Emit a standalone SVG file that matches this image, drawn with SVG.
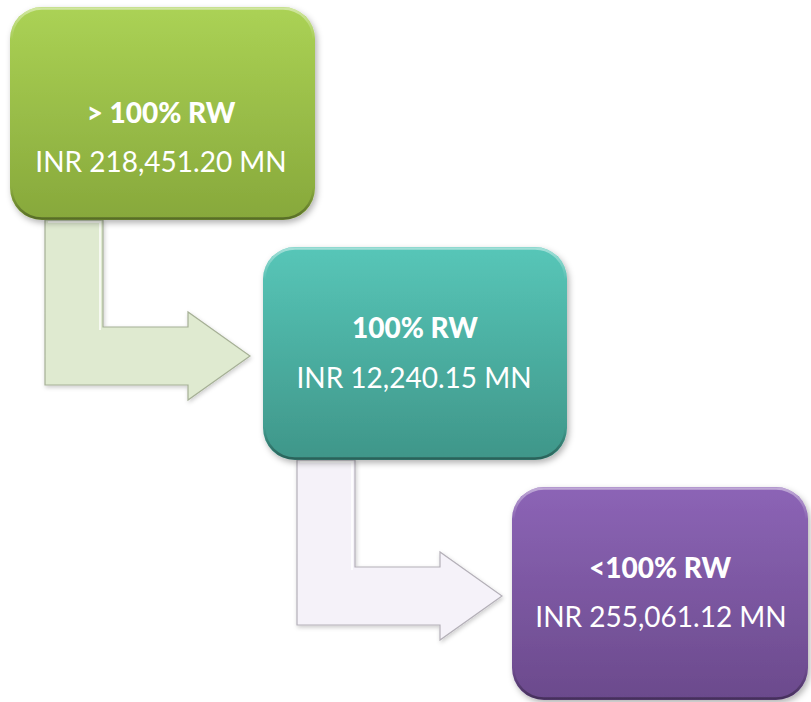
<svg xmlns="http://www.w3.org/2000/svg" width="811" height="702" viewBox="0 0 811 702">
<defs>
<linearGradient id="gGreen" x1="0" y1="0" x2="0" y2="1">
<stop offset="0" stop-color="#abd255"/>
<stop offset="1" stop-color="#87a83b"/>
</linearGradient>
<linearGradient id="gTeal" x1="0" y1="0" x2="0" y2="1">
<stop offset="0" stop-color="#57c6b8"/>
<stop offset="1" stop-color="#3f9689"/>
</linearGradient>
<linearGradient id="gPurple" x1="0" y1="0" x2="0" y2="1">
<stop offset="0" stop-color="#8c64b6"/>
<stop offset="1" stop-color="#6b4a8c"/>
</linearGradient>
<linearGradient id="gRim" x1="0" y1="0" x2="0" y2="1">
<stop offset="0" stop-color="#fff" stop-opacity="0.45"/>
<stop offset="0.15" stop-color="#fff" stop-opacity="0"/>
<stop offset="0.85" stop-color="#000" stop-opacity="0"/>
<stop offset="1" stop-color="#000" stop-opacity="0.35"/>
</linearGradient>
<filter id="shadow" x="-10%" y="-10%" width="120%" height="125%">
<feDropShadow dx="2" dy="3" stdDeviation="3" flood-color="#000" flood-opacity="0.3"/>
</filter>
<filter id="ashadow" x="-10%" y="-10%" width="120%" height="125%">
<feDropShadow dx="1" dy="2" stdDeviation="2" flood-color="#000" flood-opacity="0.2"/>
</filter>
</defs>
<style>
.t1{font-family:Lato,"Liberation Sans",sans-serif;font-weight:900;font-size:28px;fill:#fff;text-anchor:middle}
.t2{font-family:Lato,"Liberation Sans",sans-serif;font-size:28px;fill:#fff;text-anchor:middle}
.hl{fill:none;stroke:url(#gRim);stroke-width:2.5}
.arrow{stroke-width:1.2;stroke-linejoin:miter}
</style>
<g id="connectors">
<path id="arrow1" class="arrow" filter="url(#ashadow)" d="M45,220 L103,220 L103,327 L188,327 L188,312 L250,356 L188,400 L188,385 L45,385 Z" fill="#dfead0" stroke="#a6b096"/>
<path d="M48,222 L100,222 L100,330" fill="none" stroke="#fff" stroke-width="2" stroke-opacity="0.7"/>
<path id="arrow2" class="arrow" filter="url(#ashadow)" d="M297,460 L355,460 L355,567 L440,567 L440,552 L502,596 L440,640 L440,625 L297,625 Z" fill="#f5f2f9" stroke="#b4b0b8"/>
<path d="M300,462 L352,462 L352,570" fill="none" stroke="#fff" stroke-width="2" stroke-opacity="0.8"/>
</g>
<g id="node1">
<rect x="10" y="7" width="305" height="213" rx="32" fill="url(#gGreen)" filter="url(#shadow)"/>
<rect x="11.5" y="8.5" width="302" height="210" rx="30.5" class="hl"/>
<text class="t1" x="161" y="123">&gt; 100% RW</text>
<text class="t2" x="161" y="172">INR 218,451.20 MN</text>
</g>
<g id="node2">
<rect x="263" y="247" width="304" height="213" rx="32" fill="url(#gTeal)" filter="url(#shadow)"/>
<rect x="264.5" y="248.5" width="301" height="210" rx="30.5" class="hl"/>
<text class="t1" x="415" y="338">100% RW</text>
<text class="t2" x="414" y="388">INR 12,240.15 MN</text>
</g>
<g id="node3">
<rect x="512" y="487" width="296" height="213" rx="32" fill="url(#gPurple)" filter="url(#shadow)"/>
<rect x="513.5" y="488.5" width="293" height="210" rx="30.5" class="hl"/>
<text class="t1" x="660" y="578">&lt;100% RW</text>
<text class="t2" x="661" y="627">INR 255,061.12 MN</text>
</g>
</svg>
